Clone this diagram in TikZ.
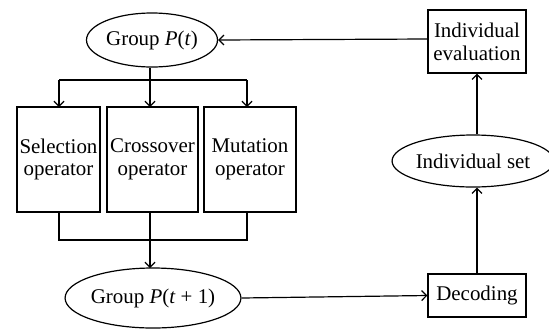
\documentclass[tikz,border=0pt]{standalone}
\usepackage{fontspec}
\setmainfont{Liberation Serif}
\usetikzlibrary{shapes.geometric,arrows.meta}
\begin{document}
\begin{tikzpicture}[x=1bp,y=-1bp,
  every node/.style={font=\fontsize{21}{23}\selectfont, inner sep=0pt},
  box/.style={draw, line width=1.2bp, align=center},
  ell/.style={draw, ellipse, line width=1.2bp},
  conn/.style={line width=1.2bp},
  arr/.style={conn, -{Straight Barb[length=5bp,width=10bp]}}]
\useasboundingbox (0,0) rectangle (549,329);
\node[ell, minimum width=131bp, minimum height=54bp] (pt) at (152,40) {Group \textit{P}(\textit{t})};
\node[box, minimum width=83bp, minimum height=105bp] (sel) at (58.5,159.5) {Selection\\operator};
\node[box, minimum width=91bp, minimum height=105bp] (cro) at (152.5,159.5) {Crossover\\operator};
\node[box, minimum width=92bp, minimum height=105bp] (mut) at (250,159.5) {Mutation\\operator};
\node[ell, minimum width=134bp, minimum height=60bp] (pt1) at (153,298) {Group \textit{P}(\textit{t} + 1)};
\node[box, minimum width=98bp, minimum height=43bp] (dec) at (477,295.5) {Decoding};
\node[ell, minimum width=147bp, minimum height=52bp] (iset) at (473,161) {Individual set};
\node[box, minimum width=98bp, minimum height=63bp] (ieval) at (477,41.5) {Individual\\evaluation};
\coordinate (split) at (150,80);
\coordinate (join) at (150,240);
\draw[conn] (pt.south -| split) -- (split);
\draw[conn] (59,80) -- (247,80);
\draw[arr] (59,80) -- (59,107);
\draw[arr] (split) -- (150,107);
\draw[arr] (247,80) -- (247,107);
\draw[conn] (59,212) -- (59,240) -- (247,240) -- (247,212);
\draw[conn] (150,212) -- (join);
\draw[arr] (join) -- (150,268);
\draw[arr] (pt1.east) -- (dec.west);
\draw[arr] (dec.north) -- (dec.north |- iset.south);
\draw[arr] (dec.north |- iset.north) -- (ieval.south);
\draw[arr] (ieval.west |- 0,39) -- (pt.east);
\end{tikzpicture}
\end{document}
